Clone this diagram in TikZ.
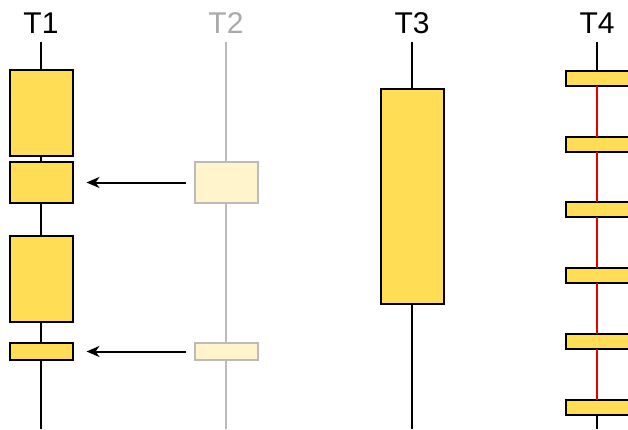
\documentclass[tikz,border=0pt]{standalone}
\usepackage{fontspec}
\setmainfont{Liberation Sans}
\usetikzlibrary{arrows.meta}
\definecolor{slotfill}{HTML}{FFDD55}
\definecolor{ghostfill}{HTML}{FFF4CC}
\definecolor{ghostline}{HTML}{BBBBBB}
\definecolor{ghosttext}{HTML}{AAAAAA}
\definecolor{busyline}{HTML}{E80000}
\begin{document}
\begin{tikzpicture}[x=1pt,y=-1pt,
  lane/.style={line width=2pt,black},
  ghostlane/.style={line width=2pt,ghostline},
  slot/.style={draw=black,fill=slotfill,line width=2pt,minimum width=63pt,inner sep=0pt,outer sep=0pt},
  ghostslot/.style={draw=ghostline,fill=ghostfill,line width=2pt,minimum width=63pt,inner sep=0pt,outer sep=0pt},
  title/.style={font=\fontsize{30}{36}\selectfont,inner sep=0pt,anchor=center},
  handoff/.style={line width=2pt,-{Stealth[length=13pt,width=11pt,inset=4pt]},shorten <=9pt,shorten >=14pt}]
\useasboundingbox (0,0) rectangle (628,429);

% lane titles
\node[title] (L1) at (41,23) {T1};
\node[title,text=ghosttext] (L2) at (226,23) {T2};
\node[title] (L3) at (412,23) {T3};
\node[title] (L4) at (597,23) {T4};

% lane end points
\foreach \n/\x in {1/41,2/226,3/412,4/597}{
  \coordinate (top\n) at (\x,42);
  \coordinate (bot\n) at (\x,429);
}

% lane lines
\draw[lane] (top1) -- (bot1);
\draw[ghostlane] (top2) -- (bot2);
\draw[lane] (top3) -- (bot3);

% T1 slots
\node[slot,minimum height=86pt] (a1) at (41,113) {};
\node[slot,minimum height=41pt] (a2) at (41,182.5) {};
\node[slot,minimum height=86pt] (a3) at (41,279) {};
\node[slot,minimum height=17pt] (a4) at (41,351.5) {};

% T2 slots
\node[ghostslot,minimum height=41pt] (b1) at (226,182.5) {};
\node[ghostslot,minimum height=17pt] (b2) at (226,351.5) {};

% T3 slot
\node[slot,minimum height=215pt] (c1) at (412,196.5) {};

% T4 slots, joined by a red lane
\foreach \i/\y in {1/78.5,2/144,3/209.5,4/275.5,5/341,6/407}{
  \node[slot,minimum height=15pt] (d\i) at (597,\y) {};
}
\draw[lane] (top4) -- (d1.north);
\foreach \i/\j in {1/2,2/3,3/4,4/5,5/6}{
  \draw[line width=2pt,busyline] (d\i.south) -- (d\j.north);
}
\draw[lane] (d6.south) -- (bot4);

% handoffs
\draw[handoff] (b1) -- (a2);
\draw[handoff] (b2) -- (a4);
\end{tikzpicture}
\end{document}
